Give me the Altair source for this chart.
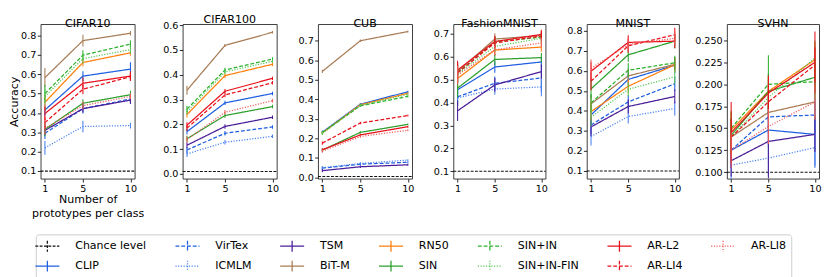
import altair as alt
import pandas as pd

MODELS = ["CLIP", "VirTex", "ICMLM", "TSM", "BiT-M", "RN50", "SIN",
          "SIN+IN", "SIN+IN-FIN", "AR-L2", "AR-LI4", "AR-LI8"]
K = [1, 5, 10]
DATASETS = ["CIFAR10", "CIFAR100", "CUB", "FashionMNIST", "MNIST", "SVHN"]
CHANCE = {"CIFAR10": 0.1, "CIFAR100": 0.01, "CUB": 0.005,
          "FashionMNIST": 0.1, "MNIST": 0.1, "SVHN": 0.1}

CIFAR10_MEAN = {
    "CLIP": [0.415, 0.590, 0.626], "VirTex": [0.295, 0.422, 0.472],
    "ICMLM": [0.220, 0.330, 0.335], "TSM": [0.310, 0.422, 0.466],
    "BiT-M": [0.582, 0.773, 0.811], "RN50": [0.455, 0.660, 0.710],
    "SIN": [0.315, 0.450, 0.494], "SIN+IN": [0.500, 0.698, 0.755],
    "SIN+IN-FIN": [0.485, 0.680, 0.727], "AR-L2": [0.397, 0.553, 0.590],
    "AR-LI4": [0.350, 0.522, 0.587], "AR-LI8": [0.320, 0.438, 0.485]}
CIFAR10_ERR = {
    "CLIP": [0.03, 0.025, 0.035], "VirTex": [0.03, 0.025, 0.02],
    "ICMLM": [0.035, 0.03, 0.015], "TSM": [0.025, 0.02, 0.02],
    "BiT-M": [0.05, 0.03, 0.012], "RN50": [0.04, 0.02, 0.015],
    "SIN": [0.035, 0.02, 0.02], "SIN+IN": [0.045, 0.025, 0.02],
    "SIN+IN-FIN": [0.04, 0.025, 0.02], "AR-L2": [0.035, 0.03, 0.025],
    "AR-LI4": [0.03, 0.025, 0.02], "AR-LI8": [0.03, 0.02, 0.015]}

CIFAR100_MEAN = {
    "CLIP": [0.171, 0.287, 0.325], "VirTex": [0.097, 0.164, 0.190],
    "ICMLM": [0.081, 0.128, 0.152], "TSM": [0.116, 0.192, 0.229],
    "BiT-M": [0.338, 0.519, 0.572], "RN50": [0.240, 0.397, 0.443],
    "SIN": [0.142, 0.236, 0.272], "SIN+IN": [0.262, 0.420, 0.464],
    "SIN+IN-FIN": [0.252, 0.412, 0.455], "AR-L2": [0.197, 0.334, 0.386],
    "AR-LI4": [0.185, 0.319, 0.368], "AR-LI8": [0.139, 0.249, 0.296]}
CIFAR100_ERR = {m: [0.012, 0.009, 0.007] for m in MODELS}
CIFAR100_ERR["BiT-M"] = [0.018, 0.006, 0.005]

CUB_MEAN = {
    "CLIP": [0.232, 0.375, 0.439], "VirTex": [0.048, 0.068, 0.078],
    "ICMLM": [0.050, 0.072, 0.089], "TSM": [0.035, 0.055, 0.065],
    "BiT-M": [0.543, 0.700, 0.747], "RN50": [0.228, 0.372, 0.431],
    "SIN": [0.140, 0.231, 0.272], "SIN+IN": [0.230, 0.367, 0.415],
    "SIN+IN-FIN": [0.226, 0.370, 0.425], "AR-L2": [0.142, 0.218, 0.260],
    "AR-LI4": [0.176, 0.279, 0.317], "AR-LI8": [0.135, 0.210, 0.242]}
CUB_ERR = {m: [0.008, 0.006, 0.005] for m in MODELS}

FASHION_MEAN = {
    "CLIP": [0.456, 0.555, 0.577], "VirTex": [0.425, 0.484, 0.507],
    "ICMLM": [0.420, 0.459, 0.468], "TSM": [0.364, 0.477, 0.535],
    "BiT-M": [0.535, 0.677, 0.692], "RN50": [0.505, 0.629, 0.642],
    "SIN": [0.463, 0.588, 0.596], "SIN+IN": [0.530, 0.665, 0.685],
    "SIN+IN-FIN": [0.525, 0.645, 0.680], "AR-L2": [0.542, 0.666, 0.697],
    "AR-LI4": [0.530, 0.660, 0.690], "AR-LI8": [0.520, 0.630, 0.660]}
FASHION_ERR = {m: [0.04, 0.025, 0.02] for m in MODELS}
FASHION_ERR["TSM"] = [0.045, 0.03, 0.03]
FASHION_ERR["VirTex"] = [0.04, 0.03, 0.06]
FASHION_ERR["ICMLM"] = [0.035, 0.025, 0.04]

MNIST_MEAN = {
    "CLIP": [0.380, 0.557, 0.628], "VirTex": [0.330, 0.445, 0.535],
    "ICMLM": [0.272, 0.372, 0.412], "TSM": [0.320, 0.422, 0.472],
    "BiT-M": [0.435, 0.575, 0.632], "RN50": [0.397, 0.523, 0.630],
    "SIN": [0.510, 0.680, 0.748], "SIN+IN": [0.440, 0.603, 0.640],
    "SIN+IN-FIN": [0.368, 0.508, 0.570], "AR-L2": [0.598, 0.742, 0.748],
    "AR-LI4": [0.548, 0.725, 0.780], "AR-LI8": [0.612, 0.732, 0.762]}
MNIST_ERR = {m: [0.045, 0.035, 0.035] for m in MODELS}
MNIST_ERR["CLIP"] = [0.05, 0.035, 0.04]

SVHN_MEAN = {
    "CLIP": [0.125, 0.148, 0.143], "VirTex": [0.125, 0.163, 0.165],
    "ICMLM": [0.108, 0.116, 0.128], "TSM": [0.113, 0.135, 0.143],
    "BiT-M": [0.140, 0.168, 0.180], "RN50": [0.148, 0.192, 0.228],
    "SIN": [0.142, 0.192, 0.208], "SIN+IN": [0.150, 0.200, 0.203],
    "SIN+IN-FIN": [0.140, 0.185, 0.230], "AR-L2": [0.145, 0.190, 0.225],
    "AR-LI4": [0.140, 0.180, 0.222], "AR-LI8": [0.125, 0.152, 0.180]}
SVHN_ERR = {m: [0.02, 0.02, 0.02] for m in MODELS}
SVHN_ERR["AR-L2"] = [0.035, 0.02, 0.035]
SVHN_ERR["SIN+IN"] = [0.02, 0.033, 0.02]
SVHN_ERR["TSM"] = [0.018, 0.042, 0.02]
SVHN_ERR["CLIP"] = [0.02, 0.02, 0.038]

MEANS = {"CIFAR10": CIFAR10_MEAN, "CIFAR100": CIFAR100_MEAN, "CUB": CUB_MEAN,
         "FashionMNIST": FASHION_MEAN, "MNIST": MNIST_MEAN, "SVHN": SVHN_MEAN}
ERRS = {"CIFAR10": CIFAR10_ERR, "CIFAR100": CIFAR100_ERR, "CUB": CUB_ERR,
        "FashionMNIST": FASHION_ERR, "MNIST": MNIST_ERR, "SVHN": SVHN_ERR}

Y_DOMAIN = {"CIFAR10": [0.061, 0.858], "CIFAR100": [-0.019, 0.605],
            "CUB": [-0.006, 0.785], "FashionMNIST": [0.068, 0.742],
            "MNIST": [0.062, 0.833], "SVHN": [0.0926, 0.2685]}
Y_TICKS = {"CIFAR10": [0.1, 0.2, 0.3, 0.4, 0.5, 0.6, 0.7, 0.8],
           "CIFAR100": [0.0, 0.1, 0.2, 0.3, 0.4, 0.5, 0.6],
           "CUB": [0.0, 0.1, 0.2, 0.3, 0.4, 0.5, 0.6, 0.7],
           "FashionMNIST": [0.1, 0.2, 0.3, 0.4, 0.5, 0.6, 0.7],
           "MNIST": [0.1, 0.2, 0.3, 0.4, 0.5, 0.6, 0.7, 0.8],
           "SVHN": [0.100, 0.125, 0.150, 0.175, 0.200, 0.225, 0.250]}
Y_FORMAT = {"SVHN": ".3f"}

# legend order (filled column by column, 2 rows)
LEG_ORDER = ["Chance level"] + MODELS
COLORS = {"Chance level": "#111111", "CLIP": "#1f5fe0", "VirTex": "#1f5fe0",
          "ICMLM": "#4a80ee", "TSM": "#4b1e99", "BiT-M": "#a87c55",
          "RN50": "#ff7f0e", "SIN": "#2ca02c", "SIN+IN": "#2cb02c",
          "SIN+IN-FIN": "#55c855", "AR-L2": "#e8101a", "AR-LI4": "#e8101a",
          "AR-LI8": "#f05a5a"}
SOLID, DASHED, DOTTED = [1, 0], [4, 2], [1.2, 1.6]
DASHES = {"Chance level": [3, 1.5], "CLIP": SOLID, "VirTex": DASHED, "ICMLM": DOTTED,
          "TSM": SOLID, "BiT-M": SOLID, "RN50": SOLID, "SIN": SOLID,
          "SIN+IN": DASHED, "SIN+IN-FIN": DOTTED, "AR-L2": SOLID,
          "AR-LI4": DASHED, "AR-LI8": DOTTED}

rows = []
for ds in DATASETS:
    for m in MODELS:
        for i, k in enumerate(K):
            mu = MEANS[ds][m][i]
            e = ERRS[ds][m][i]
            rows.append({"dataset": ds, "model": m, "k": k, "acc": mu,
                         "lo": mu - e, "hi": mu + e})
df = pd.DataFrame(rows)

WIDTHS = [98, 98, 98, 96, 96, 96]
H = 161
EXTENT = [0, 31, 31, 31, 31, 38]

LEG = alt.Legend(title=None, orient="none", legendX=-5, legendY=219, columns=7,
                 symbolType="M-2,0H2M0,-0.9V0.9", symbolSize=156.25,
                 symbolStrokeWidth=1.3, labelFontSize=11.5, labelFont="DejaVu Sans",
                 labelColor="#000", columnPadding=26, rowPadding=3, labelOffset=22,
                 padding=5, strokeColor="#cccccc", cornerRadius=3, fillColor="white",
                 labelLimit=0)
color = alt.Color("model:N", scale=alt.Scale(domain=LEG_ORDER,
                  range=[COLORS[m] for m in LEG_ORDER]), legend=LEG)
dash = alt.StrokeDash("model:N", scale=alt.Scale(domain=LEG_ORDER,
                      range=[DASHES[m] for m in LEG_ORDER]), legend=LEG)


def panel(idx, ds):
    d = df[df.dataset == ds]
    w = WIDTHS[idx]
    yscale = alt.Scale(domain=Y_DOMAIN[ds], nice=False, zero=False)
    xscale = alt.Scale(domain=[0.55, 10.45], nice=False, zero=False)
    yaxis_kw = dict(values=Y_TICKS[ds], format=Y_FORMAT.get(ds, ".1f"))
    if EXTENT[idx]:
        yaxis_kw["minExtent"] = EXTENT[idx]
    yaxis = alt.Axis(**yaxis_kw)
    xaxis = alt.Axis(values=K, format="d", labelFlush=False)
    ytitle = "Accuracy" if idx == 0 else None
    xtitle = ["Number of", "prototypes per class"] if idx == 0 else None
    X = alt.X("k:Q", scale=xscale, axis=xaxis, title=xtitle)
    chance_df = pd.DataFrame({"model": ["Chance level"], "acc": [CHANCE[ds]]})
    chance = alt.Chart(chance_df).mark_rule(strokeWidth=1.1).encode(
        y=alt.Y("acc:Q", scale=yscale, axis=yaxis, title=ytitle),
        x=alt.value(0), x2=alt.value(w), color=color, strokeDash=dash)
    lines = alt.Chart(d).mark_line(strokeWidth=1.3, clip=True).encode(
        x=X, y=alt.Y("acc:Q", scale=yscale, axis=yaxis, title=ytitle),
        color=color, strokeDash=dash)
    err = alt.Chart(d).mark_rule(strokeWidth=1.1, clip=True).encode(
        x=X, y=alt.Y("lo:Q", scale=yscale, axis=yaxis, title=ytitle),
        y2="hi:Q", color=color)
    return alt.layer(chance, lines, err).properties(width=w, height=H, title=ds)


chart = alt.hconcat(*[panel(i, ds) for i, ds in enumerate(DATASETS)]).properties(
    padding=0
).configure_concat(spacing=8).configure_view(
    stroke="#222", strokeWidth=0.9
).configure_axis(
    domain=False, grid=False, labelFont="DejaVu Sans", labelFontSize=10,
    labelColor="#000", titleFont="DejaVu Sans", titleFontSize=11.5,
    titleFontWeight="normal", titleColor="#000", tickColor="#222",
    tickSize=3.5, labelPadding=1.5, titlePadding=1, titleLineHeight=14.5
).configure_title(
    font="DejaVu Sans", fontSize=11.5, fontWeight="normal", color="#000", offset=-5
)

chart.save("out.html", embed_options={"renderer": "svg", "actions": False})
